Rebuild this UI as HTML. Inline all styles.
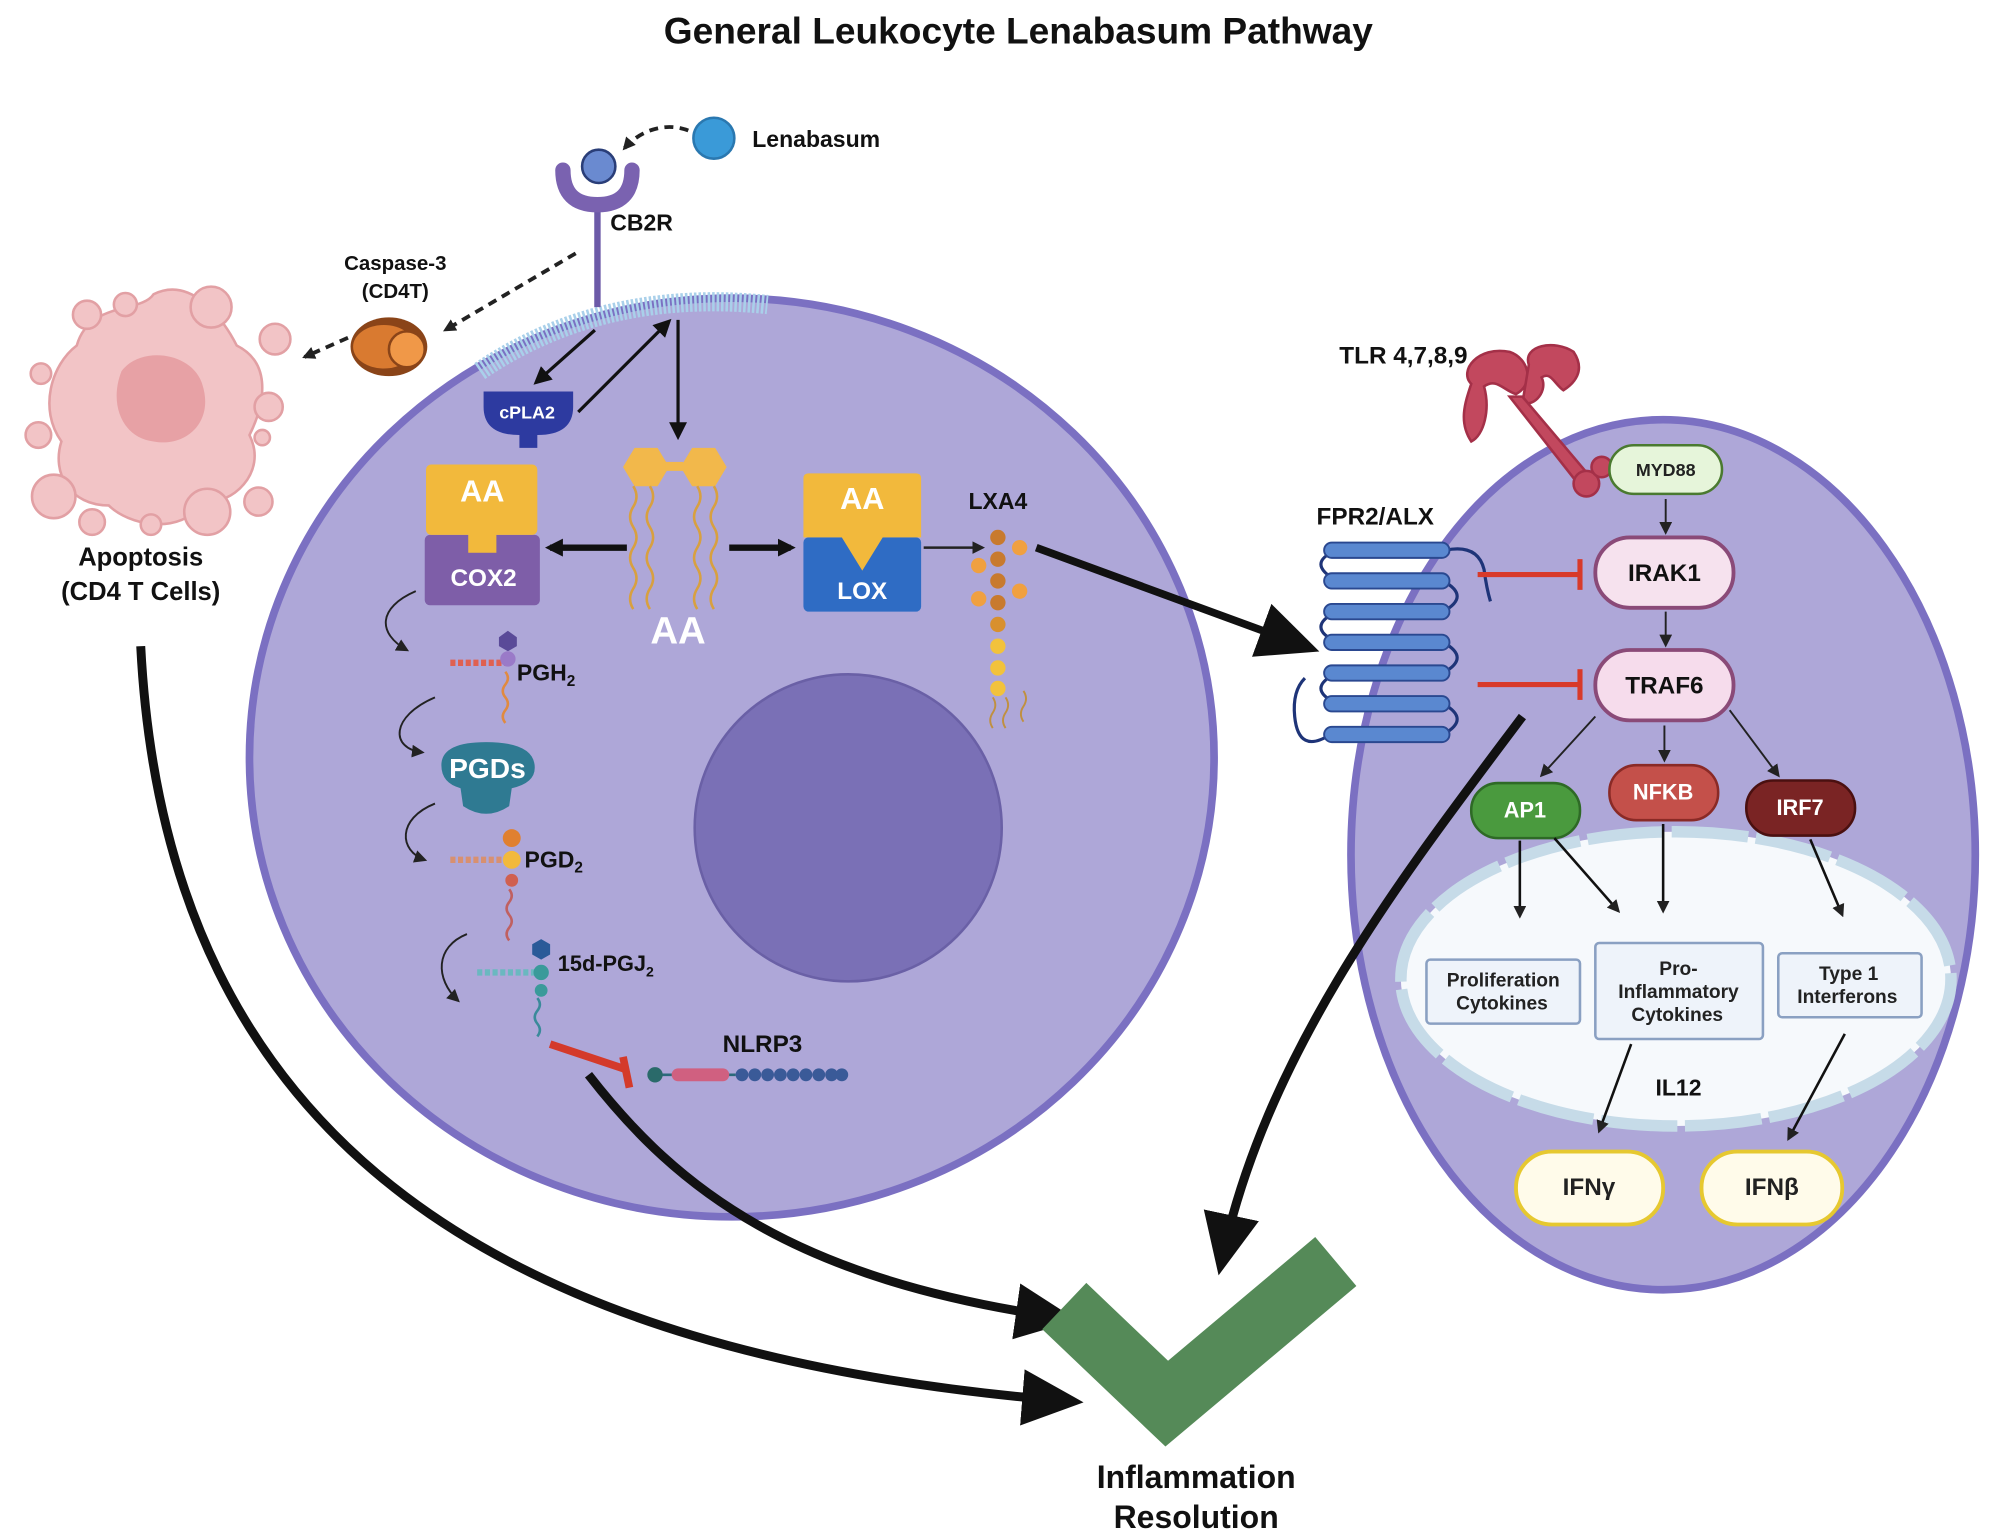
<!DOCTYPE html>
<html><head><meta charset="utf-8"><style>
html,body{margin:0;padding:0;background:#fff;}
svg{display:block;}
text{font-family:"Liberation Sans",sans-serif;font-weight:bold;}
</style></head><body>
<svg width="2006" height="1538" viewBox="0 0 1568 1202" preserveAspectRatio="none" xmlns="http://www.w3.org/2000/svg">
<defs>
<marker id="ah" markerWidth="8" markerHeight="8" refX="6" refY="4" orient="auto" markerUnits="strokeWidth"><path d="M0,0 L8,4 L0,8 z" fill="#111"/></marker>
<marker id="ahs" markerWidth="10" markerHeight="10" refX="8" refY="5" orient="auto" markerUnits="userSpaceOnUse"><path d="M0,0 L10,5 L0,10 z" fill="#222"/></marker>
<marker id="ahb" markerWidth="14" markerHeight="14" refX="10" refY="7" orient="auto" markerUnits="userSpaceOnUse"><path d="M0,0 L14,7 L0,14 z" fill="#111"/></marker>
<marker id="ahbig" markerWidth="48" markerHeight="44" refX="36" refY="22" orient="auto" markerUnits="userSpaceOnUse"><path d="M0,0 L48,22 L0,44 z" fill="#111"/></marker>
</defs>
<rect width="1568" height="1202" fill="#fff"/>
<text x="796" y="34" font-size="29" text-anchor="middle" fill="#111">General Leukocyte Lenabasum Pathway</text>

<!-- Apoptosis blob -->
<g fill="#f2c4c6" stroke="#e2a0a4" stroke-width="2">
<path d="M60,270 C70,235 110,245 120,230 C150,215 175,250 185,270 C215,285 205,320 195,340 C210,370 180,395 160,392 C140,420 100,410 85,395 C55,395 40,370 48,345 C30,320 40,285 60,270 z"/>
<circle cx="68" cy="246" r="11"/><circle cx="98" cy="238" r="9"/><circle cx="165" cy="240" r="16"/><circle cx="215" cy="265" r="12"/>
<circle cx="32" cy="292" r="8"/><circle cx="30" cy="340" r="10"/><circle cx="210" cy="318" r="11"/><circle cx="205" cy="342" r="6"/>
<circle cx="42" cy="388" r="17"/><circle cx="72" cy="408" r="10"/><circle cx="162" cy="400" r="18"/><circle cx="202" cy="392" r="11"/><circle cx="118" cy="410" r="8"/>
</g>
<path d="M95,290 C110,270 150,275 158,300 C168,330 145,350 120,345 C95,342 85,315 95,290z" fill="#e3999c" opacity="0.8"/>
<text x="110" y="442" font-size="20" text-anchor="middle" fill="#111">Apoptosis</text>
<text x="110" y="469" font-size="20" text-anchor="middle" fill="#111">(CD4 T Cells)</text>

<!-- Caspase -->
<text x="309" y="211" font-size="16" text-anchor="middle" fill="#111">Caspase-3</text>
<text x="309" y="233" font-size="16" text-anchor="middle" fill="#111">(CD4T)</text>
<ellipse cx="304" cy="271" rx="30" ry="23" fill="#8a4418"/>
<ellipse cx="300" cy="271" rx="24" ry="17" fill="#d97a30"/>
<circle cx="318" cy="273" r="14" fill="#f09848" stroke="#8a4418" stroke-width="2"/>
<line x1="450" y1="198" x2="348" y2="258" stroke="#222" stroke-width="3" stroke-dasharray="7,5" marker-end="url(#ahs)"/>
<line x1="272" y1="264" x2="238" y2="279" stroke="#222" stroke-width="3" stroke-dasharray="7,5" marker-end="url(#ahs)"/>
<path d="M538,102 C520,95 500,102 488,116" fill="none" stroke="#222" stroke-width="3" stroke-dasharray="7,5" marker-end="url(#ahs)"/>
<circle cx="558" cy="108" r="16" fill="#3a9ad8" stroke="#2a78b0" stroke-width="2"/>
<text x="588" y="115" font-size="18" fill="#111">Lenabasum</text>

<!-- Big cell -->
<ellipse cx="572" cy="592" rx="377" ry="359" fill="#aea7d8" stroke="#7b70c2" stroke-width="6"/>
<path d="M375,290 Q470,225 600,238" fill="none" stroke="#a9d0ea" stroke-width="15" stroke-dasharray="2,1.5"/>
<circle cx="663" cy="647" r="120" fill="#7a70b6" stroke="#6a60a6" stroke-width="2"/>

<!-- CB2R -->
<line x1="467" y1="158" x2="467" y2="240" stroke="#6c5aa8" stroke-width="5"/>
<path d="M440,133 Q440,160 467,160 Q494,160 494,133" fill="none" stroke="#7a62b0" stroke-width="12" stroke-linecap="round"/>
<circle cx="468" cy="130" r="13" fill="#6a8ad0" stroke="#2a3e78" stroke-width="2"/>
<text x="477" y="180" font-size="18" fill="#111">CB2R</text>

<!-- cPLA2 -->
<path d="M378,306 L448,306 L448,318 Q448,340 420,340 L420,350 L406,350 L406,340 Q378,340 378,318 z" fill="#2d3aa0"/>
<text x="412" y="327" font-size="14" fill="#fff" text-anchor="middle">cPLA2</text>
<line x1="465" y1="258" x2="420" y2="298" stroke="#111" stroke-width="2.5" marker-end="url(#ahb)"/>
<line x1="452" y1="322" x2="522" y2="252" stroke="#111" stroke-width="2.5" marker-end="url(#ahb)"/>
<line x1="530" y1="250" x2="530" y2="340" stroke="#111" stroke-width="2.5" marker-end="url(#ahb)"/>

<!-- AA lipid -->
<g fill="#f2b84b">
<polygon points="487,365 496,350 514,350 523,365 514,380 496,380"/>
<polygon points="532,365 541,350 559,350 568,365 559,380 541,380"/>
<rect x="520" y="361" width="14" height="7"/>
</g>
<g fill="none" stroke="#d8a040" stroke-width="2">
<path d="M495,380 q5,8 0,16 q-5,8 0,16 q5,8 0,16 q-5,8 0,16 q5,8 0,16 q-5,8 0,16"/>
<path d="M508,380 q5,8 0,16 q-5,8 0,16 q5,8 0,16 q-5,8 0,16 q5,8 0,16 q-5,8 0,16"/>
<path d="M545,380 q5,8 0,16 q-5,8 0,16 q5,8 0,16 q-5,8 0,16 q5,8 0,16 q-5,8 0,16"/>
<path d="M558,380 q5,8 0,16 q-5,8 0,16 q5,8 0,16 q-5,8 0,16 q5,8 0,16 q-5,8 0,16"/>
</g>
<text x="530" y="503" font-size="30" fill="#fff" text-anchor="middle">AA</text>

<!-- COX2 -->
<rect x="332" y="418" width="90" height="55" rx="4" fill="#7e5ea8"/>
<rect x="333" y="363" width="87" height="55" rx="4" fill="#f2b93c"/>
<rect x="366" y="410" width="22" height="22" fill="#f2b93c"/>
<text x="377" y="392" font-size="24" fill="#fff" text-anchor="middle">AA</text>
<text x="378" y="458" font-size="19" fill="#fff" text-anchor="middle">COX2</text>
<!-- LOX -->
<rect x="628" y="420" width="92" height="58" rx="4" fill="#2f6cc4"/>
<path d="M628,374 Q628,370 632,370 L716,370 Q720,370 720,374 L720,420 L690,420 L674,446 L658,420 L628,420 z" fill="#f2b93c"/>
<text x="674" y="398" font-size="24" fill="#fff" text-anchor="middle">AA</text>
<text x="674" y="468" font-size="19" fill="#fff" text-anchor="middle">LOX</text>
<line x1="490" y1="428" x2="430" y2="428" stroke="#111" stroke-width="5" marker-end="url(#ahb)"/>
<line x1="570" y1="428" x2="618" y2="428" stroke="#111" stroke-width="5" marker-end="url(#ahb)"/>
<line x1="722" y1="428" x2="768" y2="428" stroke="#222" stroke-width="2" marker-end="url(#ahs)"/>

<!-- LXA4 -->
<text x="780" y="398" font-size="18" fill="#111" text-anchor="middle">LXA4</text>
<g>
<circle cx="780" cy="420" r="6" fill="#c87a2e"/><circle cx="780" cy="437" r="6" fill="#c87a2e"/><circle cx="780" cy="454" r="6" fill="#c87a2e"/><circle cx="780" cy="471" r="6" fill="#c87a2e"/><circle cx="780" cy="488" r="6" fill="#d8902e"/>
<circle cx="780" cy="505" r="6" fill="#f2c23c"/><circle cx="780" cy="522" r="6" fill="#f2c23c"/><circle cx="780" cy="538" r="6" fill="#f2c23c"/>
<circle cx="765" cy="442" r="6" fill="#f0a040"/><circle cx="797" cy="428" r="6" fill="#f0a040"/><circle cx="797" cy="462" r="6" fill="#f0a040"/><circle cx="765" cy="468" r="6" fill="#f0a040"/>
<path d="M776,545 q4,6 0,12 q-4,6 0,12 M786,545 q4,6 0,12 q-4,6 0,12 M800,540 q4,6 0,12 q-4,6 0,12" fill="none" stroke="#c09040" stroke-width="1.5"/>
</g>
<line x1="810" y1="428" x2="1020" y2="505" stroke="#111" stroke-width="6" marker-end="url(#ahbig)"/>

<!-- prostaglandin cascade -->
<g fill="none" stroke="#222" stroke-width="1.5">
<path d="M325,462 C295,475 295,495 318,508" marker-end="url(#ahs)"/>
<path d="M340,545 C305,560 305,585 330,588" marker-end="url(#ahs)"/>
<path d="M340,628 C310,640 312,665 332,672" marker-end="url(#ahs)"/>
<path d="M365,730 C340,740 340,765 358,782" marker-end="url(#ahs)"/>
</g>
<g>
<line x1="352" y1="518" x2="395" y2="518" stroke="#e06050" stroke-width="5" stroke-dasharray="4,2"/>
<polygon points="390,498 397,493 404,498 404,505 397,509 390,505" fill="#5a4a98"/>
<circle cx="397" cy="515" r="6" fill="#9a7ac8"/>
<path d="M395,525 q4,5 0,10 q-4,5 0,10 q4,5 0,10 q-4,5 0,10" fill="none" stroke="#e08a40" stroke-width="2"/>
<text x="404" y="532" font-size="18" fill="#111">PGH<tspan font-size="12" dy="4">2</tspan></text>
</g>
<path d="M345,598 Q345,580 380,580 Q418,580 418,600 Q418,612 400,616 L398,630 Q380,642 362,630 L360,616 Q345,612 345,598z" fill="#2f7a92"/>
<text x="381" y="608" font-size="22" fill="#fff" text-anchor="middle" font-weight="normal">PGDs</text>
<g>
<line x1="352" y1="672" x2="398" y2="672" stroke="#d89070" stroke-width="5" stroke-dasharray="4,2"/>
<circle cx="400" cy="655" r="7" fill="#e08030"/><circle cx="400" cy="672" r="7" fill="#f2b93c"/><circle cx="400" cy="688" r="5" fill="#d06050"/>
<path d="M398,695 q4,5 0,10 q-4,5 0,10 q4,5 0,10 q-4,5 0,10" fill="none" stroke="#c06060" stroke-width="2"/>
<text x="410" y="678" font-size="18" fill="#111">PGD<tspan font-size="12" dy="4">2</tspan></text>
</g>
<g>
<line x1="373" y1="760" x2="418" y2="760" stroke="#6ab8c0" stroke-width="5" stroke-dasharray="4,2"/>
<polygon points="416,738 423,734 430,738 430,746 423,750 416,746" fill="#2a5a98"/>
<circle cx="423" cy="760" r="6" fill="#3a9a9a"/><circle cx="423" cy="774" r="5" fill="#3a9a9a"/>
<path d="M420,780 q4,5 0,10 q-4,5 0,10 q4,5 0,10" fill="none" stroke="#3a8a9a" stroke-width="2"/>
<text x="436" y="759" font-size="17" fill="#111">15d-PGJ<tspan font-size="11" dy="4">2</tspan></text>
</g>
<!-- NLRP3 -->
<text x="596" y="822" font-size="19" fill="#111" text-anchor="middle">NLRP3</text>
<line x1="510" y1="840" x2="575" y2="840" stroke="#2a6a7a" stroke-width="2"/>
<circle cx="512" cy="840" r="6" fill="#2a6a6a"/>
<rect x="525" y="835" width="45" height="10" rx="5" fill="#d06080"/>
<g fill="#3a5a98"><circle cx="580" cy="840" r="5"/><circle cx="590" cy="840" r="5"/><circle cx="600" cy="840" r="5"/><circle cx="610" cy="840" r="5"/><circle cx="620" cy="840" r="5"/><circle cx="630" cy="840" r="5"/><circle cx="640" cy="840" r="5"/><circle cx="650" cy="840" r="5"/><circle cx="658" cy="840" r="5"/></g>
<line x1="430" y1="816" x2="490" y2="836" stroke="#d43a2a" stroke-width="6"/>
<line x1="487" y1="826" x2="492" y2="850" stroke="#d43a2a" stroke-width="6"/>

<!-- Right cell -->
<ellipse cx="1300" cy="668" rx="244" ry="340" fill="#aea7d8" stroke="#7b70c2" stroke-width="6"/>
<ellipse cx="1310" cy="765" rx="215" ry="115" fill="#f6f9fc" stroke="#c6dbe8" stroke-width="9" stroke-dasharray="60,6"/>
<!-- TLR -->
<text x="1097" y="284" font-size="19" fill="#111" text-anchor="middle">TLR 4,7,8,9</text>
<g fill="#c2485e" stroke="#a43048" stroke-width="2">
<path d="M1150,300 C1140,290 1155,270 1180,275 C1195,280 1200,300 1185,308 C1175,305 1170,295 1160,302 C1165,320 1160,340 1150,345 C1140,330 1145,315 1150,300z"/>
<path d="M1195,285 C1190,270 1215,265 1230,275 C1240,290 1230,300 1222,305 C1215,300 1212,290 1205,295 C1210,305 1200,318 1190,315 z"/>
<path d="M1180,310 L1190,310 L1245,375 L1235,380 z"/>
<circle cx="1240" cy="378" r="10"/><circle cx="1252" cy="365" r="8"/>
</g>
<rect x="1258" y="348" width="88" height="38" rx="19" fill="#e6f5da" stroke="#4a7a30" stroke-width="2"/>
<text x="1302" y="372" font-size="14" fill="#222" text-anchor="middle">MYD88</text>
<rect x="1247" y="420" width="108" height="55" rx="27" fill="#f6e2ee" stroke="#8a4a78" stroke-width="3"/>
<text x="1301" y="454" font-size="19" fill="#111" text-anchor="middle">IRAK1</text>
<rect x="1247" y="508" width="108" height="55" rx="27" fill="#f6dcec" stroke="#8a4a78" stroke-width="3"/>
<text x="1301" y="542" font-size="19" fill="#111" text-anchor="middle">TRAF6</text>
<line x1="1302" y1="390" x2="1302" y2="416" stroke="#222" stroke-width="1.5" marker-end="url(#ahs)"/>
<line x1="1302" y1="478" x2="1302" y2="504" stroke="#222" stroke-width="1.5" marker-end="url(#ahs)"/>
<line x1="1247" y1="560" x2="1205" y2="606" stroke="#222" stroke-width="1.5" marker-end="url(#ahs)"/>
<line x1="1301" y1="567" x2="1301" y2="594" stroke="#222" stroke-width="1.5" marker-end="url(#ahs)"/>
<line x1="1352" y1="555" x2="1390" y2="606" stroke="#222" stroke-width="1.5" marker-end="url(#ahs)"/>
<!-- FPR2 -->
<text x="1075" y="410" font-size="19" fill="#111" text-anchor="middle">FPR2/ALX</text>
<g fill="none" stroke="#1e3478" stroke-width="2.5">
<path d="M1045,430 Q1020,440 1045,454 M1128,454 Q1150,466 1128,478 M1045,478 Q1020,490 1045,502 M1128,502 Q1150,514 1128,526 M1045,526 Q1020,538 1045,550 M1128,550 Q1150,562 1128,574"/>
<path d="M1130,430 Q1155,425 1160,445 Q1162,460 1165,470"/>
<path d="M1040,574 Q1015,590 1012,560 Q1010,540 1020,530"/>
</g>
<g fill="#5a88d0" stroke="#2a4890" stroke-width="1.5">
<rect x="1035" y="424" width="98" height="12" rx="6"/><rect x="1035" y="448" width="98" height="12" rx="6"/><rect x="1035" y="472" width="98" height="12" rx="6"/><rect x="1035" y="496" width="98" height="12" rx="6"/><rect x="1035" y="520" width="98" height="12" rx="6"/><rect x="1035" y="544" width="98" height="12" rx="6"/><rect x="1035" y="568" width="98" height="12" rx="6"/>
</g>
<g stroke="#d83a2a" stroke-width="4">
<line x1="1155" y1="449" x2="1235" y2="449"/><line x1="1235" y1="437" x2="1235" y2="461"/>
<line x1="1155" y1="535" x2="1235" y2="535"/><line x1="1235" y1="523" x2="1235" y2="547"/>
</g>
<!-- TFs -->
<rect x="1150" y="612" width="85" height="43" rx="21" fill="#4a9a3e" stroke="#2e6a26" stroke-width="2"/>
<text x="1192" y="639" font-size="17" fill="#fff" text-anchor="middle">AP1</text>
<rect x="1258" y="598" width="85" height="43" rx="21" fill="#c4504a" stroke="#8a2a26" stroke-width="2"/>
<text x="1300" y="625" font-size="17" fill="#fff" text-anchor="middle">NFKB</text>
<rect x="1365" y="610" width="85" height="43" rx="21" fill="#7a2424" stroke="#4a1010" stroke-width="2"/>
<text x="1407" y="637" font-size="17" fill="#fff" text-anchor="middle">IRF7</text>
<g stroke="#111" stroke-width="2">
<line x1="1188" y1="657" x2="1188" y2="716" marker-end="url(#ahs)"/>
<line x1="1215" y1="655" x2="1265" y2="712" marker-end="url(#ahs)"/>
<line x1="1300" y1="644" x2="1300" y2="712" marker-end="url(#ahs)"/>
<line x1="1415" y1="656" x2="1440" y2="715" marker-end="url(#ahs)"/>
<line x1="1275" y1="816" x2="1250" y2="884" marker-end="url(#ahs)"/>
<line x1="1442" y1="808" x2="1398" y2="890" marker-end="url(#ahs)"/>
</g>
<g fill="#eef3fa" stroke="#8aa0c2" stroke-width="2">
<rect x="1115" y="750" width="120" height="50" rx="3"/>
<rect x="1247" y="737" width="131" height="75" rx="3"/>
<rect x="1390" y="745" width="112" height="50" rx="3"/>
</g>
<g font-size="15" fill="#222" text-anchor="middle">
<text x="1175" y="771">Proliferation</text><text x="1174" y="789">Cytokines</text>
<text x="1312" y="762">Pro-</text><text x="1312" y="780">Inflammatory</text><text x="1311" y="798">Cytokines</text>
<text x="1445" y="766">Type 1</text><text x="1444" y="784">Interferons</text>
</g>
<text x="1312" y="856" font-size="18" fill="#111" text-anchor="middle">IL12</text>
<rect x="1185" y="900" width="115" height="57" rx="28" fill="#fffbea" stroke="#e6c830" stroke-width="3"/>
<text x="1242" y="934" font-size="19" fill="#222" text-anchor="middle">IFNγ</text>
<rect x="1330" y="900" width="110" height="57" rx="28" fill="#fffbea" stroke="#e6c830" stroke-width="3"/>
<text x="1385" y="934" font-size="19" fill="#222" text-anchor="middle">IFNβ</text>

<!-- Big curved arrows -->
<path d="M1190,560 C1100,680 990,820 955,985" fill="none" stroke="#111" stroke-width="7" marker-end="url(#ahbig)"/>
<path d="M110,505 C130,900 400,1060 835,1095" fill="none" stroke="#111" stroke-width="7" marker-end="url(#ahbig)"/>
<path d="M460,840 C530,930 620,1000 830,1030" fill="none" stroke="#111" stroke-width="7" marker-end="url(#ahbig)"/>

<!-- checkmark -->
<polyline points="850,1038 912,1097 1025,1002" fill="none" stroke="#558a58" stroke-width="50" stroke-linejoin="miter" stroke-linecap="square"/>
<text x="935" y="1163" font-size="25" fill="#111" text-anchor="middle">Inflammation</text>
<text x="935" y="1194" font-size="25" fill="#111" text-anchor="middle">Resolution</text>
</svg>
</body></html>
